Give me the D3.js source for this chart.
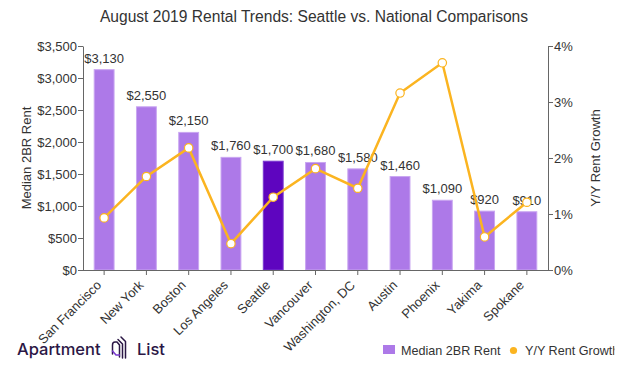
<!DOCTYPE html>
<html><head><meta charset="utf-8">
<script src="https://cdn.jsdelivr.net/npm/d3@7"></script>
<style>
body{margin:0;background:#fff;}
svg{display:block;font-family:"Liberation Sans",Arial,sans-serif;}
</style></head>
<body><svg id="c" width="629" height="366"></svg>
<script>
const categories = ["San Francisco","New York","Boston","Los Angeles","Seattle","Vancouver","Washington, DC","Austin","Phoenix","Yakima","Spokane"];
const rent = [3130,2550,2150,1760,1700,1680,1580,1460,1090,920,910];
const growth = [0.93,1.67,2.18,0.47,1.30,1.81,1.46,3.16,3.70,0.59,1.21];
const highlight = "Seattle";
const rentTicks = [0,500,1000,1500,2000,2500,3000,3500];
const growthTicks = [0,1,2,3,4];

const FF = "Liberation Sans, Arial, sans-serif";
const svg = d3.select("#c");
const L = 83, R = 548, T = 46, B = 270;
const x = d3.scaleBand().domain(categories).range([L, R]).paddingInner(0.53).paddingOuter(0.265);
const y = d3.scaleLinear().domain([0,3500]).range([B, T]);
const y2 = d3.scaleLinear().domain([0,4]).range([B, T]);
const txt = "#333";
const axCol = "#666";

svg.append("text").attr("x", 314).attr("y", 22).attr("text-anchor","middle")
  .attr("font-size", 15.6).attr("fill", txt).text("August 2019 Rental Trends: Seattle vs. National Comparisons");

// left axis
const gl = svg.append("g").attr("transform", `translate(${L},0)`)
  .call(d3.axisLeft(y).tickValues(rentTicks).tickSize(5).tickSizeOuter(0).tickFormat(d => "$" + d3.format(",")(d)));
gl.selectAll("text").attr("font-size", 13).attr("fill", txt).attr("font-family", FF).attr("x", -6);
gl.selectAll("line,path").attr("stroke", axCol);

// right axis
const gr = svg.append("g").attr("transform", `translate(${R},0)`)
  .call(d3.axisRight(y2).tickValues(growthTicks).tickSize(5).tickSizeOuter(0).tickFormat(d => d + "%"));
gr.selectAll("text").attr("font-size", 13).attr("fill", txt).attr("font-family", FF).attr("x", 6);
gr.selectAll("line,path").attr("stroke", axCol);

// bars
svg.append("g").selectAll("rect").data(categories).join("rect")
  .attr("x", (d) => x(d)).attr("width", x.bandwidth())
  .attr("y", (d,i) => y(rent[i])).attr("height", (d,i) => B - y(rent[i]))
  .attr("fill", d => d === highlight ? "#5e05bf" : "#ad79e8")
  .attr("stroke", d => d === highlight ? "#7a3ad0" : "#c9a6f1").attr("stroke-width", 1);

// x axis
const gx = svg.append("g").attr("transform", `translate(0,${B})`)
  .call(d3.axisBottom(x).tickSize(5).tickSizeOuter(0));
gx.select("path").attr("d", `M${L},0.5H${R}`);
gx.selectAll("line,path").attr("stroke", axCol);
gx.selectAll("text").attr("font-size", 13).attr("fill", txt).attr("font-family", FF)
  .attr("text-anchor","end").attr("dy", null).attr("y", 0)
  .attr("transform", "translate(-2,16) rotate(-45)");

// bar labels
svg.append("g").selectAll("text").data(categories).join("text")
  .attr("x", d => x(d) + x.bandwidth()/2).attr("y", (d,i) => y(rent[i]) - 7)
  .attr("text-anchor","middle").attr("font-size", 13).attr("fill", txt)
  .text((d,i) => "$" + d3.format(",")(rent[i]));

// line
const lineGen = d3.line().x((d,i) => x(categories[i]) + x.bandwidth()/2).y(d => y2(d));
svg.append("path").datum(growth).attr("d", lineGen).attr("fill","none")
  .attr("stroke","#fbb420").attr("stroke-width", 2.5);
svg.append("g").selectAll("circle").data(growth).join("circle")
  .attr("cx", (d,i) => x(categories[i]) + x.bandwidth()/2).attr("cy", d => y2(d))
  .attr("r", 4.2).attr("fill","#fff").attr("stroke","#fbb420").attr("stroke-width", 1.2);

// axis titles
svg.append("text").attr("transform","translate(31,158) rotate(-90)").attr("text-anchor","middle")
  .attr("font-size", 13).attr("fill", txt).text("Median 2BR Rent");
svg.append("text").attr("transform","translate(600,158) rotate(-90)").attr("text-anchor","middle")
  .attr("font-size", 13).attr("fill", txt).text("Y/Y Rent Growth");

// legend
const lg = svg.append("g");
lg.append("rect").attr("x", 383).attr("y", 345).attr("width", 12).attr("height", 9).attr("fill","#ad79e8");
lg.append("text").attr("x", 401).attr("y", 355).attr("font-size", 12.6).attr("fill", txt).text("Median 2BR Rent");
lg.append("circle").attr("cx", 513.5).attr("cy", 350.5).attr("r", 3.6).attr("fill","#fbb420");
svg.append("clipPath").attr("id","lc").append("rect").attr("x",0).attr("y",330).attr("width",614.5).attr("height",36);
lg.append("text").attr("x", 525).attr("y", 355).attr("font-size", 12.6).attr("fill", txt)
  .attr("clip-path","url(#lc)").text("Y/Y Rent Growth");

// logo
const logo = svg.append("g");
logo.append("text").attr("x", 17).attr("y", 355).attr("font-family","Inter, Lato, sans-serif")
  .attr("font-size", 16.5).attr("font-weight", 500).attr("fill","#2b1745").text("Apartment");
logo.append("text").attr("x", 137).attr("y", 355).attr("font-family","Inter, Lato, sans-serif")
  .attr("font-size", 16.5).attr("font-weight", 500).attr("fill","#2b1745").text("List");
const ic = logo.append("g").attr("fill","none").attr("stroke-width",1.5).attr("stroke-linejoin","round").attr("stroke-linecap","round");
ic.append("path").attr("d","M112.5,354 L112.5,345 Q112.5,342 115,342 L117,342 L119.5,345 L119.5,357").attr("stroke","#2b1745");
ic.append("path").attr("d","M112.5,351 L116,355 L119.5,355").attr("stroke","#7a3ad0");
ic.append("path").attr("d","M118,339.5 L122.5,344 L122.5,358").attr("stroke","#2b1745");
ic.append("path").attr("d","M121,337 L125.5,341.5 L125.5,358").attr("stroke","#2b1745");
</script></body></html>
